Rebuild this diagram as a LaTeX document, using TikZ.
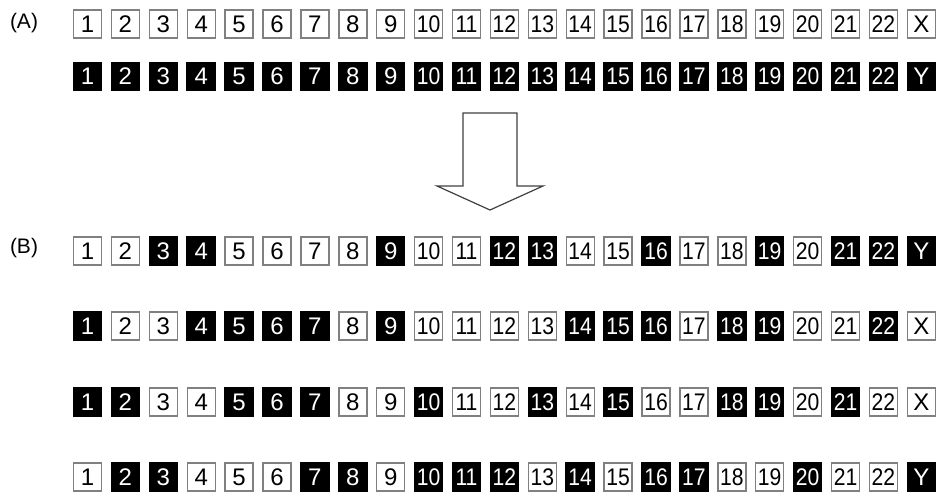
\documentclass[tikz,border=0pt]{standalone}
\usepackage{fontspec}
\usepackage{graphicx}
\setmainfont{Liberation Sans}
\tikzset{
  cellw/.style={draw=black!50, line width=1.4pt, fill=white, minimum width=28pt, minimum height=28pt, inner sep=0pt, text=black, font=\fontsize{24}{28}\selectfont},
  cellb/.style={draw=black, line width=1pt, fill=black, minimum width=28.5pt, minimum height=28.5pt, inner sep=0pt, text=white, font=\fontsize{24}{28}\selectfont},
  lbl/.style={inner sep=0pt, font=\fontsize{21}{25}\selectfont},
  bigarrow/.style={draw=black!75, line width=1.2pt, fill=white, line join=miter}
}
\newcommand\celltext[2]{\ifnum#1>9 \ifnum#1<23 \scalebox{0.88}[1]{#1}\else #2\fi\else #1\fi}
\newcommand\boxrow[4]{%
  \foreach \b [count=\i] in {#3}{%
    \ifnum\b=1
      \node[cellb] (#1-\i) at ({87.5+37.9*(\i-1)}, #2) {\celltext{\i}{#4}};
    \else
      \node[cellw] (#1-\i) at ({87.5+37.9*(\i-1)}, #2) {\celltext{\i}{#4}};
    \fi
  }}
\begin{document}
\begin{tikzpicture}[x=1pt, y=-1pt]
\useasboundingbox (0,0) rectangle (943,493);
\node[lbl] (labA) at (24,23) {(A)};
\node[lbl] (labB) at (24,248) {(B)};
\boxrow{a}{24}{0,0,0,0,0,0,0,0,0,0,0,0,0,0,0,0,0,0,0,0,0,0,0}{X}
\boxrow{b}{76.5}{1,1,1,1,1,1,1,1,1,1,1,1,1,1,1,1,1,1,1,1,1,1,1}{Y}
\boxrow{c}{251}{0,0,1,1,0,0,0,0,1,0,0,1,1,0,0,1,0,0,1,0,1,1,1}{Y}
\boxrow{d}{326}{1,0,0,1,1,1,1,0,1,0,0,0,0,1,1,1,0,1,1,0,0,1,0}{X}
\boxrow{e}{402}{1,1,0,0,1,1,1,0,0,1,0,0,1,0,1,0,0,1,1,0,1,0,0}{X}
\boxrow{f}{477}{0,1,1,0,0,0,1,1,0,1,1,1,0,1,0,1,1,0,0,1,0,0,1}{Y}
\draw[bigarrow] (463,113) -- (517,113) -- (517,186) -- (543,186) -- (490,210) -- (437,186) -- (463,186) -- cycle;
\end{tikzpicture}
\end{document}
